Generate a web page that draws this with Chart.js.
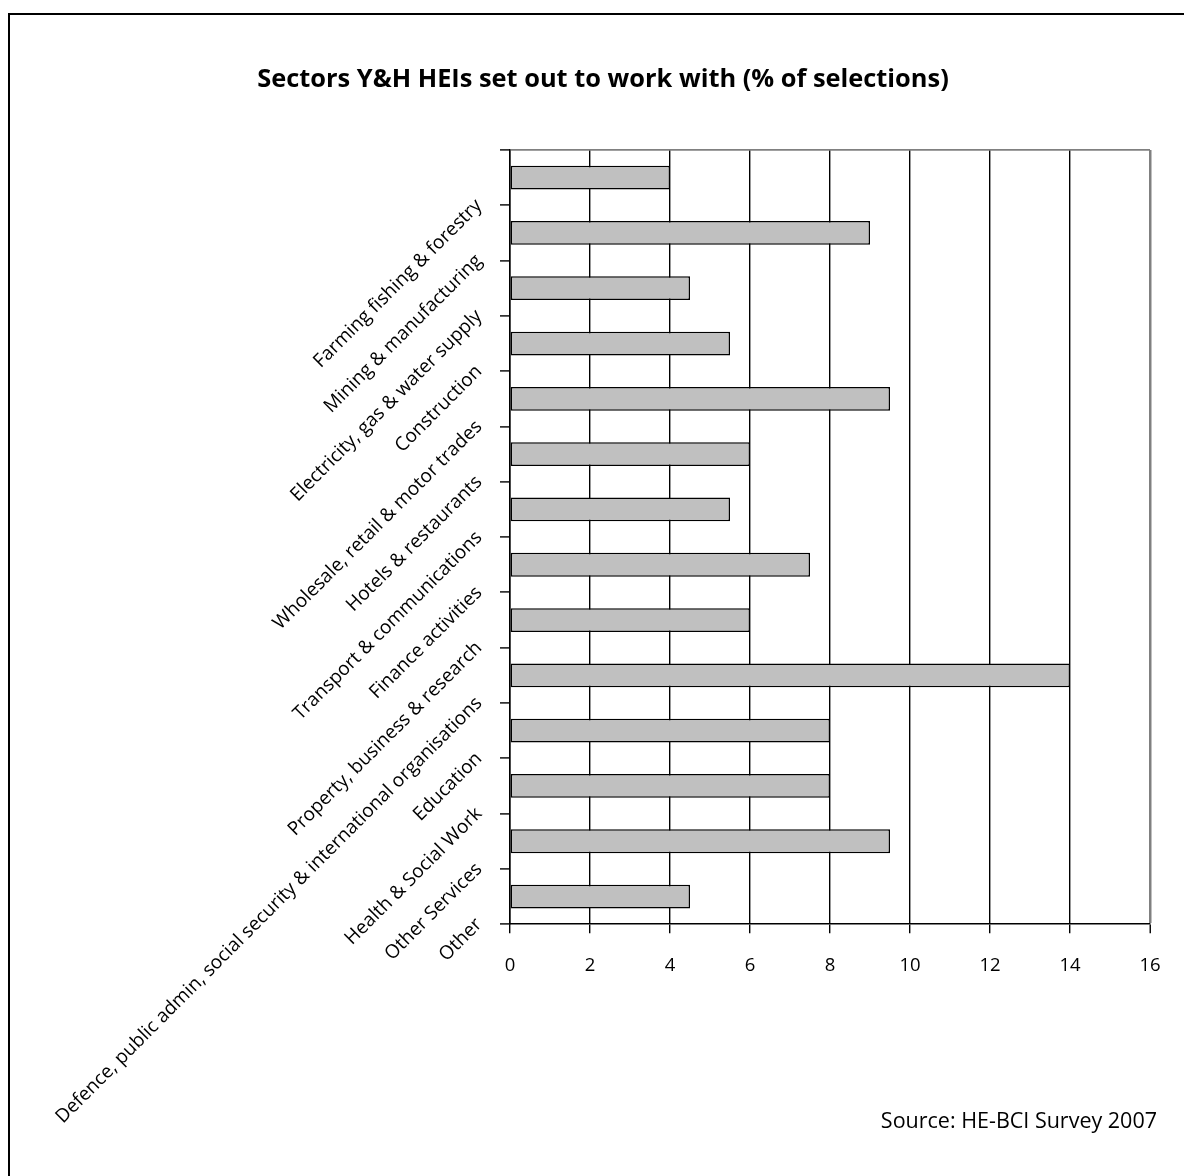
<!DOCTYPE html>
<html>
<head>
<meta charset="utf-8">
<title>Sectors Y&amp;H HEIs set out to work with</title>
<script src="https://cdn.jsdelivr.net/npm/chart.js@4/dist/chart.umd.min.js"></script>
<style>
  html, body { margin: 0; padding: 0; background: #fff; }
  #wrap { position: relative; width: 1184px; height: 1176px; overflow: hidden; }
  #frame { position: absolute; left: 8px; top: 13px; width: 1300px; height: 1300px;
           border-left: 2px solid #000; border-top: 2px solid #000; box-sizing: border-box; }
  canvas { position: absolute; left: 0; top: 0; }
</style>
</head>
<body>
<div id="wrap">
  <div id="frame"></div>
  <canvas id="chart" width="1184" height="1176"></canvas>
</div>
<script>
// Sectors and share of selections (%)
const sectors = [
  'Farming fishing & forestry',
  'Mining & manufacturing',
  'Electricity, gas & water supply',
  'Construction',
  'Wholesale, retail & motor trades',
  'Hotels & restaurants',
  'Transport & communications',
  'Finance activities',
  'Property, business & research',
  'Defence, public admin, social security & international organisations',
  'Education',
  'Health & Social Work',
  'Other Services',
  'Other'
];
const shares = [4, 9, 4.5, 5.5, 9.5, 6, 5.5, 7.5, 6, 14, 8, 8, 9.5, 4.5];
const xTicks = [0, 2, 4, 6, 8, 10, 12, 14, 16];

const chartTitle = 'Sectors Y&H HEIs set out to work with (% of selections)';
const sourceNote = 'Source: HE-BCI Survey 2007';

const FONT = '"Open Sans", Lato, "DejaVu Sans", sans-serif';
Chart.defaults.font.family = FONT;
Chart.defaults.color = '#000';

new Chart(document.getElementById('chart'), {
  type: 'bar',
  data: {
    labels: sectors,
    datasets: [{
      data: shares,
      backgroundColor: '#c0c0c0',
      borderColor: '#000',
      borderWidth: 1.5,
      borderSkipped: false,
      categoryPercentage: 1,
      barPercentage: 0.43
    }]
  },
  options: {
    indexAxis: 'y',
    responsive: false,
    animation: false,
    layout: { padding: { left: 49, right: 27, top: 0, bottom: 0 } },
    plugins: {
      legend: { display: false },
      tooltip: { enabled: false },
      title: {
        display: true,
        text: chartTitle,
        color: '#000',
        font: { size: 25.4, weight: 'bold', family: FONT },
        padding: { top: 65, bottom: 54.5 }
      },
      subtitle: {
        display: true,
        text: sourceNote,
        position: 'bottom',
        align: 'end',
        color: '#000',
        font: { size: 21.5, family: FONT },
        padding: { top: 104, bottom: 41 }
      }
    },
    scales: {
      x: {
        type: 'linear',
        min: 0,
        max: 16,
        afterBuildTicks: (scale) => { scale.ticks = xTicks.map(v => ({ value: v })); },
        afterFit: (scale) => { scale.height = 81; scale.paddingRight = 34; scale.paddingLeft = 0; },
        border: { display: true, color: '#000', width: 1.5 },
        grid: {
          drawOnChartArea: true,
          color: (ctx) => (ctx.tick && ctx.tick.value === 16) ? '#808080' : '#000',
          lineWidth: (ctx) => (ctx.tick && ctx.tick.value === 16) ? 2.5 : 1.4,
          tickColor: '#000',
          tickWidth: 1.4,
          tickLength: 9
        },
        ticks: {
          color: '#000',
          padding: 21,
          font: { size: 18.5, family: FONT }
        }
      },
      y: {
        offset: true,
        afterFit: (scale) => { scale.width = 461; scale.paddingTop = 0; scale.paddingBottom = 0; },
        border: { display: true, color: '#000', width: 1.5 },
        grid: {
          offset: true,
          drawOnChartArea: true,
          color: (ctx) => ctx.index === 0 ? '#808080' : 'rgba(0,0,0,0)',
          lineWidth: 1.8,
          tickColor: '#000',
          tickWidth: 1.4,
          tickLength: 10
        },
        ticks: {
          autoSkip: false,
          minRotation: 45,
          maxRotation: 45,
          labelOffset: 25,
          padding: 21,
          color: '#000',
          font: { size: 19, family: FONT }
        }
      }
    }
  }
});
</script>
</body>
</html>
